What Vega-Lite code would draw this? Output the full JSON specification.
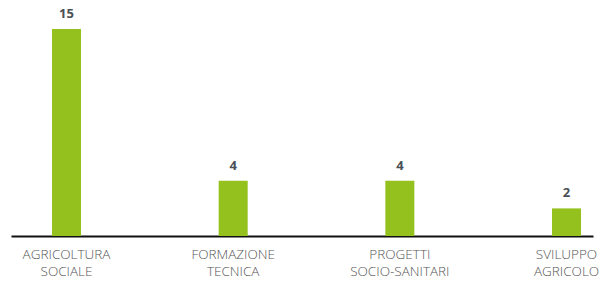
{
  "$schema": "https://vega.github.io/schema/vega-lite/v6.json",
  "width": 582,
  "height": 207,
  "autosize": {"type": "none"},
  "padding": {"left": 11, "top": 29, "right": 21, "bottom": 46},
  "background": "white",
  "config": {"view": {"stroke": null}},
  "data": {
    "values": [
      {"categoria": "AGRICOLTURA SOCIALE", "valore": 15},
      {"categoria": "FORMAZIONE TECNICA", "valore": 4},
      {"categoria": "PROGETTI SOCIO-SANITARI", "valore": 4},
      {"categoria": "SVILUPPO AGRICOLO", "valore": 2}
    ]
  },
  "encoding": {
    "x": {
      "field": "categoria",
      "type": "nominal",
      "sort": null,
      "scale": {"paddingInner": 0.826, "paddingOuter": 0.159, "align": 0.774},
      "axis": {
        "title": null,
        "labelAngle": 0,
        "labelExpr": "split(datum.label, ' ')",
        "labelFont": "Open Sans",
        "labelFontWeight": 300,
        "labelFontSize": 13.5,
        "labelLineHeight": 17,
        "labelColor": "#555555",
        "labelPadding": 11,
        "ticks": false,
        "domainColor": "#111111",
        "domainWidth": 2,
        "grid": false
      }
    },
    "y": {
      "field": "valore",
      "type": "quantitative",
      "scale": {"domain": [0, 15]},
      "axis": null
    }
  },
  "layer": [
    {"mark": {"type": "bar", "color": "#95C11F"}},
    {
      "mark": {
        "type": "text",
        "baseline": "alphabetic",
        "dy": -11,
        "font": "Open Sans",
        "fontWeight": "bold",
        "fontSize": 13,
        "color": "#4a4f55"
      },
      "encoding": {"text": {"field": "valore", "type": "quantitative"}}
    }
  ]
}
